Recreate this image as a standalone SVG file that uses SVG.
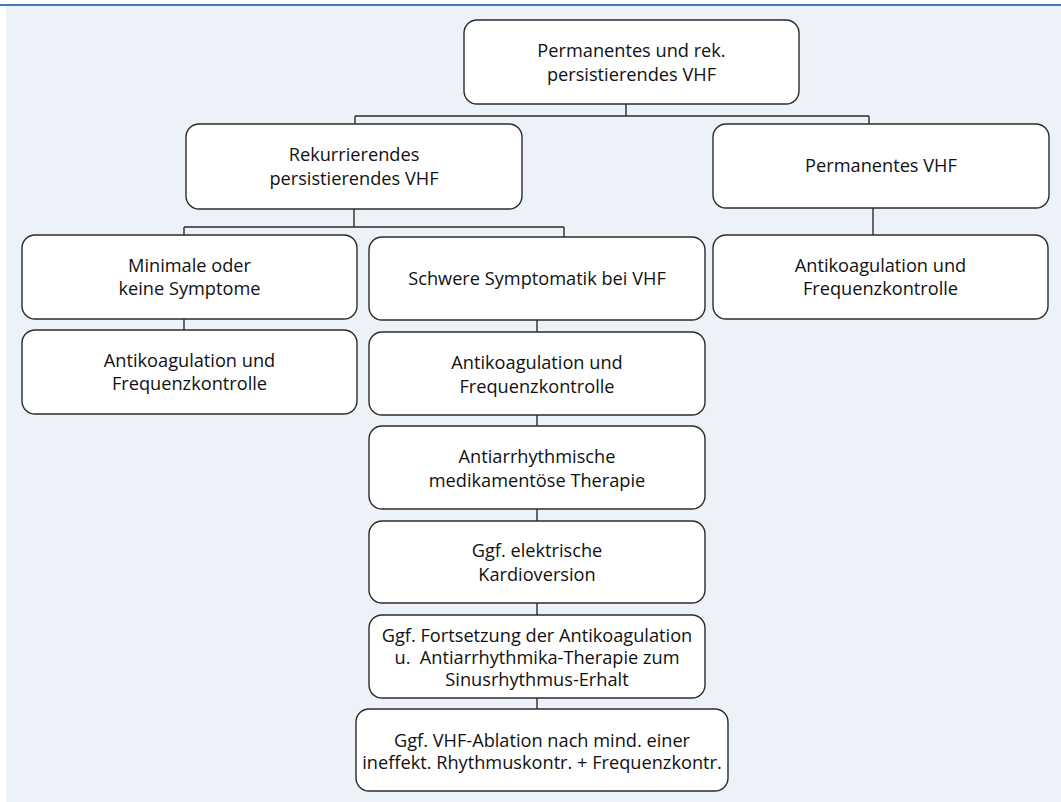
<svg xmlns="http://www.w3.org/2000/svg" width="1061" height="802" viewBox="0 0 1061 802">
  <style>
    .box { fill: #ffffff; stroke: #2b2b2b; stroke-width: 1.4; }
    .conn { fill: none; stroke: #2b2b2b; stroke-width: 1.4; }
    text { font-family: "Open Sans", "Noto Sans", "Liberation Sans", sans-serif; font-size: 18.2px; fill: #111111; text-anchor: middle; white-space: pre; }
  </style>

  <!-- page background and top rule -->
  <rect x="0" y="0" width="1061" height="802" fill="#ffffff"/>
  <rect x="6" y="6" width="1055" height="796" fill="#edf2f9"/>
  <rect x="0" y="4" width="1061" height="2" fill="#3d7dbf"/>

  <!-- connectors -->
  <g id="connectors">
    <path class="conn" d="M626,104 V116 M355,116 H869 M355,116 V124 M869,116 V124"/>
    <path class="conn" d="M354,209 V227 M184,227 H564 M184,227 V235 M564,227 V237"/>
    <path class="conn" d="M184,319 V330"/>
    <path class="conn" d="M537,320 V332"/>
    <path class="conn" d="M873,208 V235"/>
    <path class="conn" d="M537,415 V426 M537,509 V521 M537,603 V615 M537,698 V709"/>
  </g>

  <g id="n-root">
    <rect class="box" x="464" y="20" width="335" height="84" rx="13"/>
    <text x="631.5" y="57">Permanentes und rek.</text>
    <text x="631.5" y="81">persistierendes VHF</text>
  </g>

  <g id="n-rekurrierend">
    <rect class="box" x="186" y="124" width="336" height="85" rx="13"/>
    <text x="354" y="161">Rekurrierendes</text>
    <text x="354" y="185">persistierendes VHF</text>
  </g>

  <g id="n-permanent">
    <rect class="box" x="713" y="124" width="336" height="84" rx="13"/>
    <text x="881" y="172">Permanentes VHF</text>
  </g>

  <g id="n-minimal">
    <rect class="box" x="22" y="235" width="335" height="84" rx="13"/>
    <text x="189.5" y="272">Minimale oder</text>
    <text x="189.5" y="295">keine Symptome</text>
  </g>

  <g id="n-schwer">
    <rect class="box" x="369" y="237" width="336" height="83" rx="13"/>
    <text x="537" y="285">Schwere Symptomatik bei VHF</text>
  </g>

  <g id="n-perm-antikoag">
    <rect class="box" x="713" y="235" width="335" height="84" rx="13"/>
    <text x="880.5" y="272">Antikoagulation und</text>
    <text x="880.5" y="295">Frequenzkontrolle</text>
  </g>

  <g id="n-minimal-antikoag">
    <rect class="box" x="22" y="330" width="335" height="84" rx="13"/>
    <text x="189.5" y="367">Antikoagulation und</text>
    <text x="189.5" y="390">Frequenzkontrolle</text>
  </g>

  <g id="n-schwer-antikoag">
    <rect class="box" x="369" y="332" width="336" height="83" rx="13"/>
    <text x="537" y="369">Antikoagulation und</text>
    <text x="537" y="393">Frequenzkontrolle</text>
  </g>

  <g id="n-antiarrhythmisch">
    <rect class="box" x="369" y="426" width="336" height="83" rx="13"/>
    <text x="537" y="463">Antiarrhythmische</text>
    <text x="537" y="487">medikamentöse Therapie</text>
  </g>

  <g id="n-kardioversion">
    <rect class="box" x="369" y="521" width="336" height="82" rx="13"/>
    <text x="537" y="557">Ggf. elektrische</text>
    <text x="537" y="581">Kardioversion</text>
  </g>

  <g id="n-fortsetzung">
    <rect class="box" x="369" y="615" width="336" height="83" rx="13"/>
    <text x="537" y="642">Ggf. Fortsetzung der Antikoagulation</text>
    <text x="537" y="664">u.  Antiarrhythmika-Therapie zum</text>
    <text x="537" y="686">Sinusrhythmus-Erhalt</text>
  </g>

  <g id="n-ablation">
    <rect class="box" x="356" y="709" width="372" height="82" rx="13"/>
    <text x="542" y="747">Ggf. VHF-Ablation nach mind. einer</text>
    <text x="542" y="769">ineffekt. Rhythmuskontr. + Frequenzkontr.</text>
  </g>
</svg>
